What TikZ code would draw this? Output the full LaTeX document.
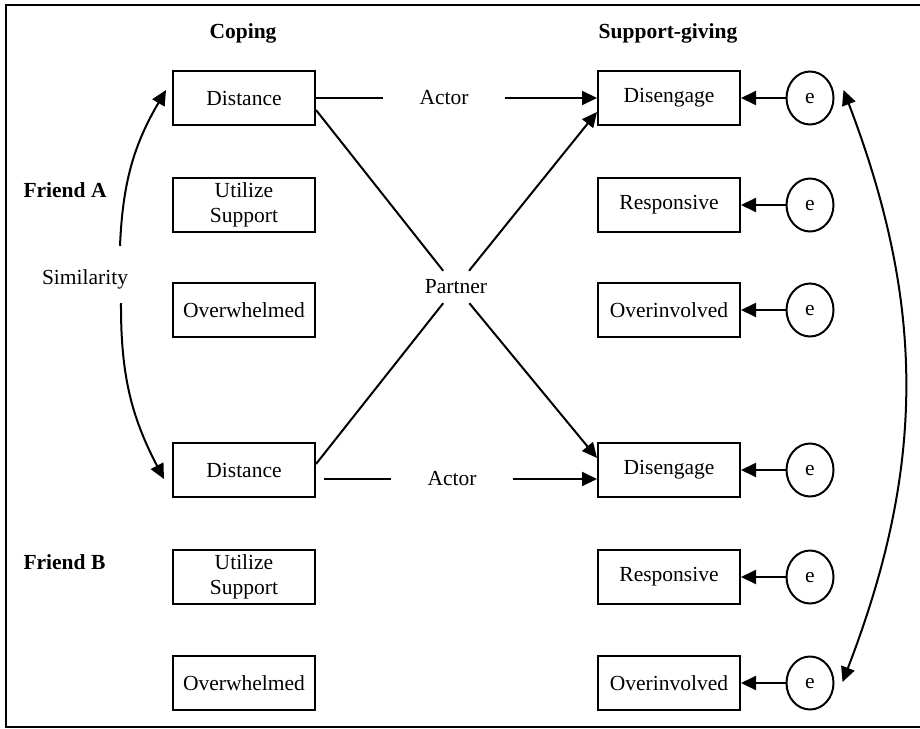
\documentclass[tikz,border=0pt]{standalone}
\usepackage{fontspec}
\setmainfont{Liberation Serif}
\usetikzlibrary{arrows.meta, shapes.geometric}

\begin{document}
\begin{tikzpicture}[x=1pt, y=-1pt, font=\fontsize{21.5}{25}\selectfont]
        \tikzstyle{measure} = [rectangle, draw, line width=2pt, minimum width=142pt, minimum height=54pt, align=center, inner sep=2pt]
        \tikzstyle{resid} = [ellipse, draw, line width=2pt, minimum width=47pt, minimum height=53pt, inner sep=0pt, text depth=0pt]
        \tikzstyle{path} = [inner sep=0pt, minimum width=121pt, minimum height=32pt]
        \tikzstyle{heading} = [font=\fontsize{21.5}{25}\selectfont\bfseries]
        \tikzstyle{arrow} = [-{Triangle[length=15pt, width=14pt]}, line width=2pt]
        \tikzstyle{link} = [line width=2pt]

        \useasboundingbox (0,0) rectangle (920,728);
        % Frame (its right side runs off the page)
        \draw [line width=2.4pt] (930,5) -- (6,5) -- (6,727) -- (930,727);

        % Headings
        \node (coping) [heading] at (243,33) {Coping};
        \node (giving) [heading] at (668,33) {Support-giving};
        \node (friendA) [heading, anchor=west] at (20,190) {Friend A};
        \node (friendB) [heading, anchor=west] at (20,562) {Friend B};
        \node (sim) at (85,279) {Similarity};

        % Coping, friend A and friend B
        \node (dA) [measure] at (244,98) {Distance};
        \node (uA) [measure] at (244,205) {Utilize\\Support};
        \node (oA) [measure] at (244,310) {Overwhelmed};
        \node (dB) [measure] at (244,470) {Distance};
        \node (uB) [measure] at (244,577) {Utilize\\Support};
        \node (oB) [measure] at (244,683) {Overwhelmed};

        % Support-giving, friend A and friend B
        \node (dgA) [measure] at (669,98) {Disengage};
        \node (rsA) [measure] at (669,205) {Responsive};
        \node (oiA) [measure] at (669,310) {Overinvolved};
        \node (dgB) [measure] at (669,470) {Disengage};
        \node (rsB) [measure] at (669,577) {Responsive};
        \node (oiB) [measure] at (669,683) {Overinvolved};

        % Residuals
        \node (eA1) [resid] at (810,98) {e};
        \node (eA2) [resid] at (810,205) {e};
        \node (eA3) [resid] at (810,310) {e};
        \node (eB1) [resid] at (810,470) {e};
        \node (eB2) [resid] at (810,577) {e};
        \node (eB3) [resid] at (810,683) {e};

        % Path labels
        \node (actA) [path] at (444,98) {Actor};
        \node (actB) [path] at (452,479) {Actor};
        \node (partner) [path, minimum width=60pt] at (456,287) {Partner};

        % Actor paths
        \draw [link] (dA) -- (actA);
        \draw [arrow] (actA) -- (dgA);
        \draw [link] ([shift={(8,9)}]dB.east) -- (actB);
        \draw [arrow] (actB) -- ([shift={(0,9)}]dgB.west);

        % Partner paths
        \draw [link] ([shift={(0,12)}]dA.east) -- (partner);
        \draw [arrow] (partner) -- ([shift={(0,-12)}]dgB.west);
        \draw [link] ([shift={(0,-6)}]dB.east) -- (partner);
        \draw [arrow] (partner) -- ([shift={(0,14)}]dgA.west);

        % Residual arrows
        \foreach \e/\m in {eA1/dgA, eA2/rsA, eA3/oiA, eB1/dgB, eB2/rsB, eB3/oiB}
            \draw [arrow] (\e) -- (\m);

        % Similarity
        \draw [arrow] ([shift={(35,-33)}]sim.center) to[bend left=14] ([shift={(-6,-8)}]dA.west);
        \draw [arrow] ([shift={(36,24)}]sim.center) to[bend right=14] ([shift={(-8,9)}]dB.west);

        % Residual covariance
        \draw [arrow, {Triangle[length=15pt, width=14pt]}-{Triangle[length=15pt, width=14pt]}] ([shift={(9,-8)}]eA1.east) to[bend left=21] ([shift={(8,-1)}]eB3.east);
    \end{tikzpicture}
\end{document}
